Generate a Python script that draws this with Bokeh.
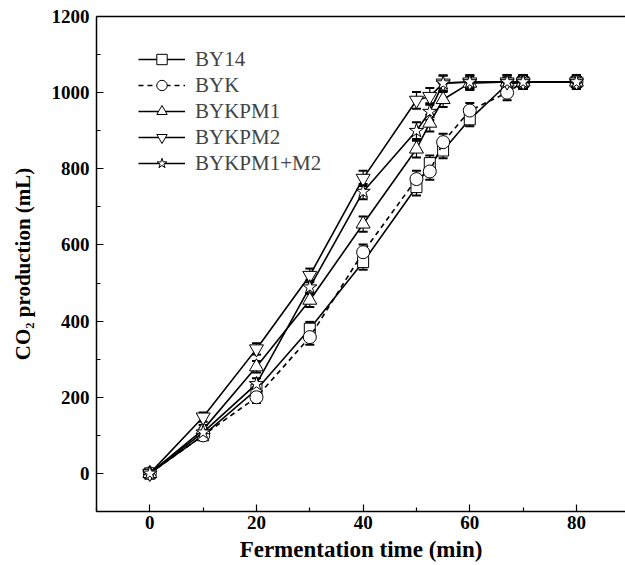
from bokeh.plotting import figure
from bokeh.models import (ColumnDataSource, Whisker, Range1d, FixedTicker, Legend, LegendItem,
                          LinearAxis)
from bokeh.embed import file_html
from bokeh.resources import INLINE

time_min = [0, 10, 20, 30, 40, 50, 52.5, 55, 60, 67, 70, 80]

by14 = [0, 100, 220, 380, 555, 752, 815, 848, 930, 1022, 1028, 1028]
byk = [0, 100, 200, 358, 581, 773, 793, 870, 953, 1000, 1028, 1028]
bykpm1 = [0, 115, 280, 455, 655, 852, 920, 982, 1025, 1028, 1028, 1028]
bykpm2 = [0, 148, 327, 520, 775, 980, 990, 1025, 1028, 1028, 1028, 1028]
bykpm1m2 = [0, 108, 235, 489, 740, 900, 950, 1025, 1028, 1028, 1028, 1028]

err_by14 = [10, 12, 15, 18, 20, 22, 20, 20, 18, 18, 18, 18]
err_byk = [10, 12, 15, 20, 20, 22, 22, 22, 20, 20, 18, 18]
err_bykpm1 = [10, 12, 15, 18, 20, 22, 22, 20, 18, 18, 18, 18]
err_bykpm2 = [10, 12, 15, 18, 20, 22, 22, 20, 18, 18, 18, 18]
err_bykpm1m2 = [10, 12, 15, 18, 20, 22, 22, 20, 18, 18, 18, 18]

names = ["BY14", "BYK", "BYKPM1", "BYKPM2", "BYKPM1+M2"]
series = [by14, byk, bykpm1, bykpm2, bykpm1m2]
errors = [err_by14, err_byk, err_bykpm1, err_bykpm2, err_bykpm1m2]
markers = ["square", "circle", "triangle", "inverted_triangle", "star"]
sizes = [11, 13, 14, 14, 15]
dashes = ["solid", "5 4", "solid", "solid", "solid"]

x_ticks = [0, 20, 40, 60, 80]
y_ticks = [0, 200, 400, 600, 800, 1000, 1200]

FONT = "Liberation Serif"

p = figure(width=625, height=565, output_backend="svg", toolbar_location=None,
           x_range=Range1d(-10, 89.2), y_range=Range1d(-100, 1200),
           min_border_left=96, min_border_right=0, min_border_top=16, min_border_bottom=54)
p.grid.visible = False
p.outline_line_color = None

for ax in (p.xaxis[0], p.yaxis[0]):
    ax.major_label_text_font = FONT
    ax.major_label_text_font_style = "bold"
    ax.major_label_text_font_size = "19px"
    ax.major_label_text_color = "black"
    ax.axis_label_text_font = FONT
    ax.axis_label_text_font_style = "bold"
    ax.axis_label_text_color = "black"
    ax.axis_line_width = 1.5
    ax.major_tick_in = 7
    ax.major_tick_out = 0
    ax.minor_tick_in = 4
    ax.minor_tick_out = 0
    ax.major_tick_line_width = 1.2
    ax.minor_tick_line_width = 1.2

p.xaxis.ticker = FixedTicker(ticks=x_ticks, minor_ticks=[-10, 10, 30, 50, 70, 90])
p.yaxis.ticker = FixedTicker(ticks=y_ticks, minor_ticks=[-100, 100, 300, 500, 700, 900, 1100])
p.xaxis.axis_label = "Fermentation time (min)"
p.yaxis.axis_label = "CO₂ production (mL)"
p.xaxis.axis_label_text_font_size = "23px"
p.yaxis.axis_label_text_font_size = "21px"
p.xaxis.major_label_standoff = 4
p.yaxis.major_label_standoff = 7
p.xaxis.axis_label_standoff = 5
p.yaxis.axis_label_standoff = 14

top_axis = LinearAxis(axis_line_width=1.5, major_tick_in=0, major_tick_out=0,
                      minor_tick_in=0, minor_tick_out=0, major_label_text_font_size="0px",
                      major_label_standoff=0, ticker=FixedTicker(ticks=[]))
p.add_layout(top_axis, "above")

items = []
for name, ys, es, mk, sz, dash in zip(names, series, errors, markers, sizes, dashes):
    src = ColumnDataSource(dict(x=time_min, y=ys,
                                lo=[a - b for a, b in zip(ys, es)],
                                hi=[a + b for a, b in zip(ys, es)]))
    ln = p.line("x", "y", source=src, line_color="black", line_width=1.6, line_dash=dash)
    w = Whisker(source=src, base="x", lower="lo", upper="hi", line_color="black", line_width=1.2)
    w.upper_head.size = 9
    w.lower_head.size = 9
    w.upper_head.line_width = 2
    w.lower_head.line_width = 2
    p.add_layout(w)
    sc = p.scatter("x", "y", source=src, marker=mk, size=sz, fill_color="white",
                   line_color="black", line_width=1.0)
    items.append(LegendItem(label=name, renderers=[ln, sc]))

legend = Legend(items=items, location=(42, 335), border_line_color=None,
                background_fill_alpha=0, padding=0, margin=0, spacing=0,
                glyph_width=47, glyph_height=26, label_height=26,
                label_text_font=FONT, label_text_font_size="21px",
                label_standoff=10)
p.add_layout(legend)

open("out.html", "w").write(file_html(p, INLINE))
